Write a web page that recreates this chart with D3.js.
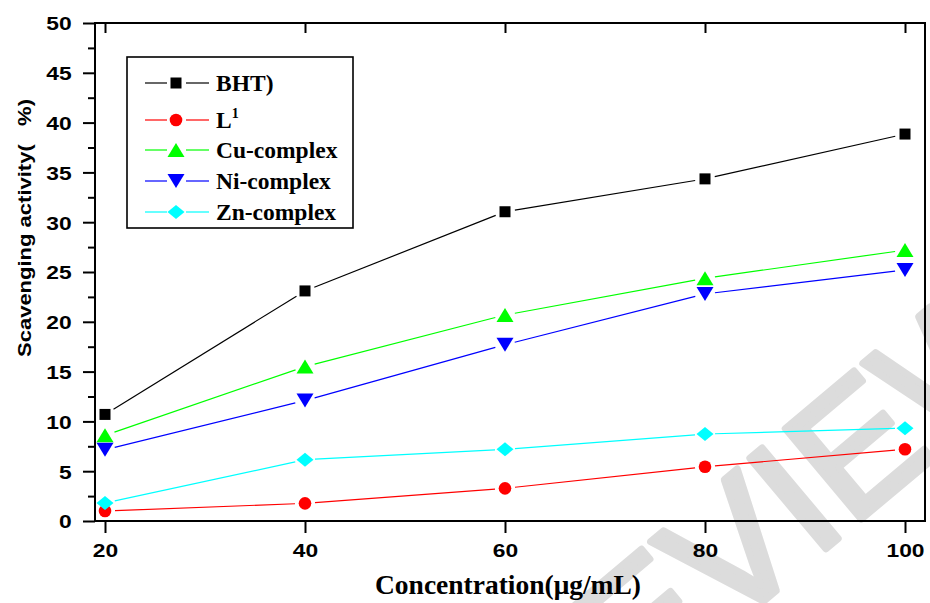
<!DOCTYPE html>
<html>
<head>
<meta charset="utf-8">
<script src="https://cdn.jsdelivr.net/npm/d3@7"></script>
<style>
  body { margin: 0; background: #fff; }
  svg { display: block; }
</style>
</head>
<body>
<div id="chart"></div>
<script>
// values
var concentrations = [20, 40, 60, 80, 100];
var bhtValues = [10.7, 23.1, 31.05, 34.35, 38.85];
var l1Values = [1.0, 1.77, 3.28, 5.45, 7.2];
var cuValues = [8.6, 15.5, 20.68, 24.37, 27.2];
var niValues = [7.15, 12.1, 17.7, 22.8, 25.2];
var znValues = [1.8, 6.15, 7.2, 8.73, 9.32];

var seriesNames = ["BHT)", "L", "Cu-complex", "Ni-complex", "Zn-complex"];
var seriesColors = ["#000000", "#ff0000", "#00ff00", "#0000ff", "#00ffff"];
var seriesShapes = ["square", "circle", "up", "down", "diamond"];
var seriesValues = [bhtValues, l1Values, cuValues, niValues, znValues];

var yMajorTicks = [0, 5, 10, 15, 20, 25, 30, 35, 40, 45, 50];
var yMinorTicks = [2.5, 7.5, 12.5, 17.5, 22.5, 27.5, 32.5, 37.5, 42.5, 47.5];
var xTicks = [20, 40, 60, 80, 100];

var svgWidth = 930, svgHeight = 603;
var plot = { left: 95, right: 925, top: 23, bottom: 521 };

var svg = d3.select("#chart")
    .append("svg")
    .attr("width", svgWidth)
    .attr("height", svgHeight);

var x = d3.scaleLinear().domain([19.0, 102.0]).range([plot.left, plot.right]);
var y = d3.scaleLinear().domain([0, 50]).range([plot.bottom, plot.top]);

// watermark behind everything
svg.append("text")
    .attr("transform", "translate(455,860) rotate(-40)")
    .attr("font-family", "Liberation Sans, Arial, sans-serif")
    .attr("font-size", 172)
    .attr("fill", "#dcdcdc")
    .attr("stroke", "#dcdcdc")
    .attr("stroke-width", 7)
    .attr("stroke-linejoin", "round")
    .attr("stroke-linecap", "round")
    .text("PREVIEW");

// marker shapes
function markerPath(shape) {
    if (shape == "square") return "M-5.5,-5.5H5.5V5.5H-5.5Z";
    if (shape == "circle") return "M-6.3,0A6.3,6.3 0 1,0 6.3,0A6.3,6.3 0 1,0 -6.3,0Z";
    if (shape == "up") return "M0,-7L8.5,7L-8.5,7Z";
    if (shape == "down") return "M0,7L8.5,-7L-8.5,-7Z";
    return "M0,-7L8.5,0L0,7L-8.5,0Z";
}

// lines stop short of the markers (Origin style)
var gap = 10;
function segments(vals) {
    var pts = vals.map(function(v, i) { return [x(concentrations[i]), y(v)]; });
    var segs = [];
    for (var i = 0; i < pts.length - 1; i++) {
        var dx = pts[i + 1][0] - pts[i][0], dy = pts[i + 1][1] - pts[i][1];
        var len = Math.sqrt(dx * dx + dy * dy);
        if (len <= 2 * gap) continue;
        var ux = dx / len, uy = dy / len;
        segs.push([pts[i][0] + ux * gap, pts[i][1] + uy * gap,
                   pts[i + 1][0] - ux * gap, pts[i + 1][1] - uy * gap]);
    }
    return segs;
}

seriesValues.forEach(function(vals, s) {
    var g = svg.append("g");
    g.selectAll("line")
        .data(segments(vals))
        .enter()
        .append("line")
        .attr("x1", function(d) { return d[0]; })
        .attr("y1", function(d) { return d[1]; })
        .attr("x2", function(d) { return d[2]; })
        .attr("y2", function(d) { return d[3]; })
        .attr("stroke", seriesColors[s])
        .attr("stroke-width", 1.2);
});

seriesValues.forEach(function(vals, s) {
    svg.append("g").selectAll("path")
        .data(vals)
        .enter()
        .append("path")
        .attr("d", markerPath(seriesShapes[s]))
        .attr("transform", function(d, i) { return "translate(" + x(concentrations[i]) + "," + y(d) + ")"; })
        .attr("fill", seriesColors[s]);
});

// frame
svg.append("rect")
    .attr("x", plot.left)
    .attr("y", plot.top)
    .attr("width", plot.right - plot.left)
    .attr("height", plot.bottom - plot.top)
    .attr("fill", "none")
    .attr("stroke", "#000")
    .attr("stroke-width", 2);

var sansBold = "Liberation Sans, Arial, sans-serif";

// y axis
var yAxis = svg.append("g")
    .attr("transform", "translate(" + plot.left + ",0)")
    .call(d3.axisLeft(y).tickValues(yMajorTicks).tickSize(12).tickFormat(d3.format("d")));
svg.append("g")
    .attr("transform", "translate(" + plot.left + ",0)")
    .call(d3.axisLeft(y).tickValues(yMinorTicks).tickSize(7).tickFormat(""));

// x axis bottom and top
var xAxis = svg.append("g")
    .attr("transform", "translate(0," + plot.bottom + ")")
    .call(d3.axisBottom(x).tickValues(xTicks).tickSize(12).tickFormat(d3.format("d")));
svg.append("g")
    .attr("transform", "translate(0," + plot.top + ")")
    .call(d3.axisBottom(x).tickValues(xTicks).tickSize(10).tickFormat(""));

svg.selectAll(".domain").remove();
svg.selectAll(".tick line").attr("stroke", "#000").attr("stroke-width", 2);

yAxis.selectAll("text")
    .attr("x", -19.5)
    .attr("dy", "0.36em")
    .attr("transform", "scale(1.2,1)")
    .attr("font-family", sansBold)
    .attr("font-weight", "bold")
    .attr("font-size", 19)
    .attr("fill", "#000");

xAxis.selectAll("text")
    .attr("y", 36)
    .attr("dy", 0)
    .attr("transform", "scale(1.2,1)")
    .attr("font-family", sansBold)
    .attr("font-weight", "bold")
    .attr("font-size", 19)
    .attr("fill", "#000");

// axis titles
svg.append("text")
    .attr("transform", "translate(31,228) rotate(-90)")
    .attr("text-anchor", "middle")
    .attr("font-family", sansBold)
    .attr("font-weight", "bold")
    .attr("font-size", 19)
    .attr("textLength", 258)
    .attr("lengthAdjust", "spacingAndGlyphs")
    .style("white-space", "pre")
    .text("Scavenging activity(   %)");

svg.append("text")
    .attr("x", 508)
    .attr("y", 594)
    .attr("text-anchor", "middle")
    .attr("font-family", "Liberation Serif, Times New Roman, serif")
    .attr("font-weight", "bold")
    .attr("font-size", 27.5)
    .attr("textLength", 266)
    .attr("lengthAdjust", "spacingAndGlyphs")
    .text("Concentration(\u03bcg/mL)");

// legend
var legendRows = [83, 120, 150, 181, 212];
var legend = svg.append("g");
legend.append("rect")
    .attr("x", 127).attr("y", 57)
    .attr("width", 226).attr("height", 171)
    .attr("fill", "#fff")
    .attr("stroke", "#000")
    .attr("stroke-width", 1.6);

seriesNames.forEach(function(name, s) {
    var cy = legendRows[s];
    var row = legend.append("g");
    row.append("line").attr("x1", 145).attr("x2", 167).attr("y1", cy).attr("y2", cy)
        .attr("stroke", seriesColors[s]).attr("stroke-width", 1.2);
    row.append("line").attr("x1", 186).attr("x2", 209).attr("y1", cy).attr("y2", cy)
        .attr("stroke", seriesColors[s]).attr("stroke-width", 1.2);
    row.append("path")
        .attr("d", markerPath(seriesShapes[s]))
        .attr("transform", "translate(176," + cy + ")")
        .attr("fill", seriesColors[s]);
    var t = row.append("text")
        .attr("x", 216)
        .attr("y", cy + 7.5)
        .attr("font-family", "Liberation Serif, Times New Roman, serif")
        .attr("font-weight", "bold")
        .attr("font-size", 23.5)
        .text(name);
    if (name == "L") {
        t.append("tspan").attr("dy", -10).attr("font-size", 14).text("1");
    }
});
</script>
</body>
</html>
